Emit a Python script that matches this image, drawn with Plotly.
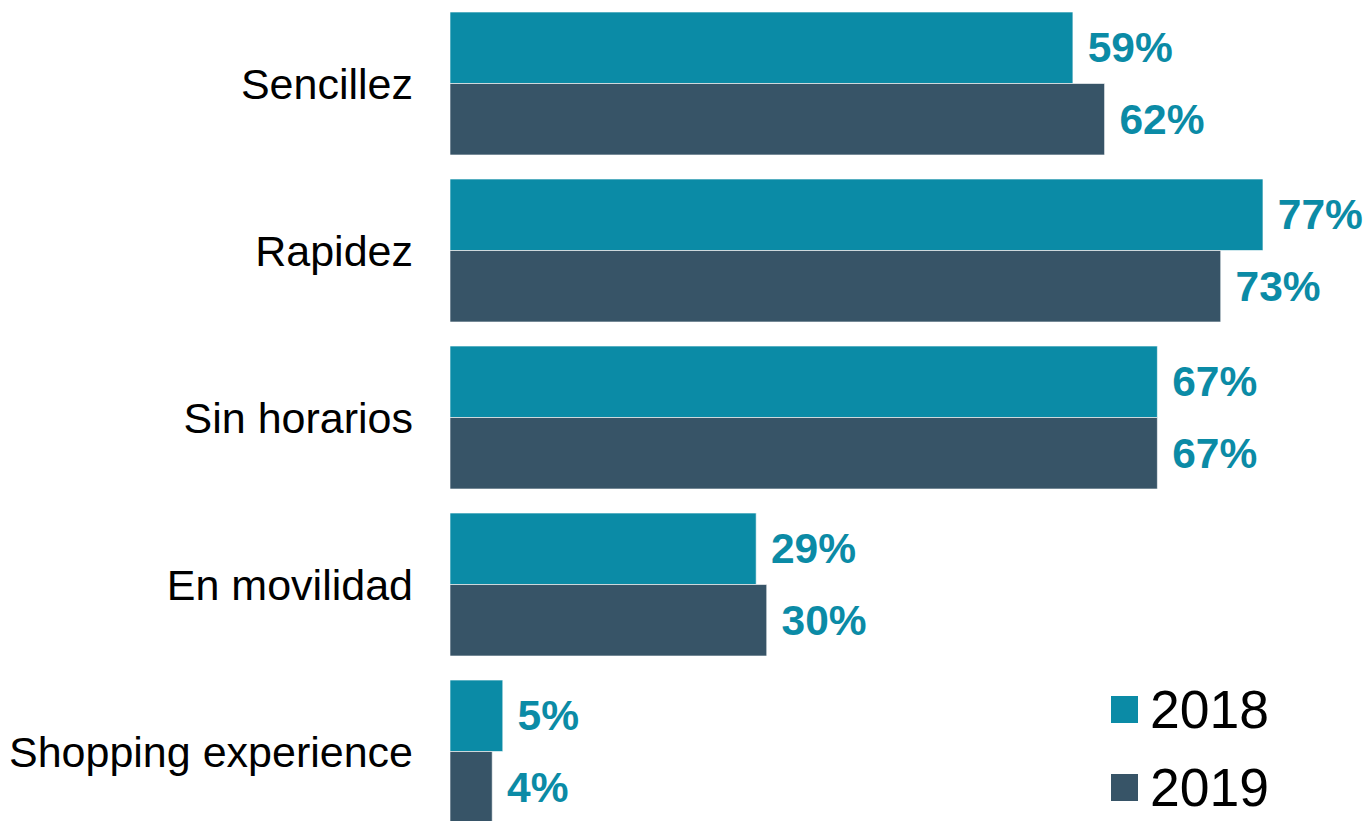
import plotly.graph_objects as go

# Reasons given, share of respondents (%)
categories = ["Sencillez", "Rapidez", "Sin horarios", "En movilidad", "Shopping experience"]
values_2018 = [59, 77, 67, 29, 5]
values_2019 = [62, 73, 67, 30, 4]
series_names = ["2018", "2019"]

TEAL = "#0B8BA6"
SLATE = "#375467"
FONT = "Liberation Sans, Arial, sans-serif"

W, H = 1368, 821
ML = 450  # left margin (room for category labels)

fig = go.Figure()
for name, vals, color in [(series_names[0], values_2018, TEAL),
                          (series_names[1], values_2019, SLATE)]:
    fig.add_trace(go.Bar(
        name=name,
        y=categories,
        x=vals,
        orientation="h",
        marker=dict(color=color, line=dict(color="rgba(255,255,255,0.6)", width=1)),
        text=[f"\u00a0{v}%" for v in vals],
        textposition="outside",
        textfont=dict(family=FONT, size=42.5, color=TEAL, weight="bold"),
        constraintext="none",
        cliponaxis=False,
        showlegend=False,
        hoverinfo="skip",
    ))

fig.update_layout(
    width=W, height=H,
    margin=dict(l=ML, r=0, t=0, b=0),
    barmode="group",
    bargap=0.144,
    bargroupgap=0,
    plot_bgcolor="white",
    paper_bgcolor="white",
    font=dict(family=FONT, color="black"),
)
fig.update_xaxes(range=[0, (W - ML) / 10.558], visible=False, fixedrange=True)
fig.update_yaxes(
    type="category",
    categoryorder="array",
    categoryarray=categories,
    range=[4.416, -0.5],
    showgrid=False, zeroline=False, showline=False, ticks="",
    tickfont=dict(family=FONT, size=43, color="black"),
    ticklabelstandoff=36,
)

# Legend drawn as swatches + labels in the lower right corner
pw = W - ML


def px_x(px):
    return (px - ML) / pw


def px_y(py):
    return 1 - py / H


for (name, color, top) in [(series_names[0], TEAL, 696), (series_names[1], SLATE, 774)]:
    fig.add_shape(type="rect", xref="paper", yref="paper",
                  x0=px_x(1111), x1=px_x(1138), y0=px_y(top + 27), y1=px_y(top),
                  fillcolor=color, line=dict(width=0))
    fig.add_annotation(xref="paper", yref="paper", x=px_x(1148), y=px_y(top + 13),
                       xanchor="left", yanchor="middle", showarrow=False,
                       text=name, font=dict(family=FONT, size=53.5, color="black"))

fig.write_html("out.html")
